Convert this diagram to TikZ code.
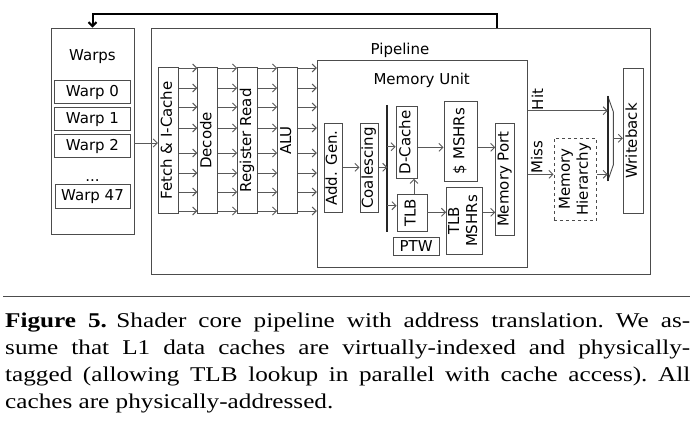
\documentclass[tikz,border=0pt]{standalone}
\usepackage{graphicx}
\usepackage{fontspec}
\newfontfamily\diafont{DejaVu Sans}
\newfontfamily\capfont[FakeStretch=1.2]{Liberation Serif}
\usetikzlibrary{arrows.meta, positioning}
\newcommand{\vtext}[1]{\rotatebox{90}{\begin{tabular}{@{}c@{}}#1\end{tabular}}}

\begin{document}
\begin{tikzpicture}[x = 1pt, y = -1pt, > = {Straight Barb[length=4pt, width=8pt]},
    every node/.style = {font = \diafont\fontsize{15}{18}\selectfont, inner sep = 0pt},
    box/.style = {draw = black!70, line width = 0.9pt, rectangle},
    stage/.style = {box, minimum width = 20pt, minimum height = 145.6pt},
    warp/.style = {box, minimum width = 76pt, minimum height = 23.3pt},
    wire/.style = {->, draw = black!65, line width = 0.9pt},
    bar/.style = {draw = black!85, line width = 2pt},
    back/.style = {->, draw = black, line width = 2pt},
    capstyle/.style = {text width = 685pt, align = justify, font = \capfont\fontsize{21}{27}\selectfont}]
    \useasboundingbox (0,0) rectangle (696,425);

    \node[box, minimum width = 83pt, minimum height = 206pt]		(warps)		at (92.5,131)		{};
    \node										(warpstxt)	at (92.5,57)		{Warps};
    \node[warp]									(warp0)		at (92.5,92.3)		{Warp 0};
    \node[warp]									(warp1)		[below = 2.7pt of warp0]	{Warp 1};
    \node[warp]									(warp2)		[below = 2.7pt of warp1]	{Warp 2};
    \node										(dots)		at (92.5,181)		{...};
    \node[warp, minimum width = 75pt]			(warp47)	at (92.5,196.5)		{Warp 47};

    \node[box, minimum width = 499pt, minimum height = 246pt]	(pipeline)	at (400.5,151)		{};
    \node										(pipetxt)	at (400,50)			{Pipeline};
    \node[stage]								(fetch)		at (168.3,140.5)	{\vtext{Fetch \& I-Cache}};
    \node[stage]								(decode)	at (207.7,140.5)	{\vtext{Decode}};
    \node[stage]								(regread)	at (247.5,140.5)	{\vtext{Register Read}};
    \node[stage]								(alu)		at (287.5,140.5)	{\vtext{ALU}};
    \node[stage, minimum height = 145pt]		(wb)		at (633.3,140.8)	{\vtext{Writeback}};

    \node[box, minimum width = 210.4pt, minimum height = 207pt]	(memunit)	at (422.4,164.2)	{};
    \node										(memtxt)	at (421.7,80.7)		{Memory Unit};
    \node[box, minimum width = 18.3pt, minimum height = 89.4pt]	(addgen)	at (333.2,168)		{\vtext{Add. Gen.}};
    \node[box, minimum width = 18.7pt, minimum height = 89.4pt]	(coalesce)	at (369.3,168)		{\vtext{Coalescing}};
    \node[box, minimum width = 21.3pt, minimum height = 72.3pt]	(dcache)	at (406.7,142.2)	{\vtext{D-Cache}};
    \node[box, minimum width = 33.7pt, minimum height = 80pt]	(cmshr)		at (460.8,141)		{\vtext{\$ MSHRs}};
    \node[box, minimum width = 30pt, minimum height = 36.7pt]	(tlb)		at (412,212.7)		{\vtext{TLB}};
    \node[box, minimum width = 45.7pt, minimum height = 17.7pt]	(ptw)		at (416.2,246.2)	{PTW};
    \node[box, minimum width = 34.4pt, minimum height = 66.6pt]	(tlbmshr)	at (464.5,221)		{\vtext{TLB\\MSHRs}};
    \node[box, minimum width = 18.6pt, minimum height = 111.7pt]	(memport)	at (505,179.2)		{\vtext{Memory Port}};
    \node[box, dashed, minimum width = 42.7pt, minimum height = 81.7pt]	(memhier)	at (575.3,179.2)	{\vtext{Memory\\Hierarchy}};

    \coordinate (bartop) at (387.3,105);
    \coordinate (barbot) at (387.3,231.7);
    \coordinate (muxtl) at (607.7,96);
    \coordinate (muxbl) at (607.7,181);
    \coordinate (muxout) at (613.3,138.3);
    \coordinate (fb) at (496.7,14);

    \draw[bar] (bartop) -- (barbot);
    \draw[box] (muxtl) -- (613.3,111.7) -- (613.3,165) -- (muxbl);
    \draw[bar] (muxtl) -- (muxbl);

    \draw[wire] (warps.east |- 0,143) -- (fetch.west |- 0,143);
    \foreach \y in {68,88,107,128,153,173,192,211} {
        \draw[wire] (fetch.east |- 0,\y) -- (decode.west |- 0,\y);
        \draw[wire] (decode.east |- 0,\y) -- (regread.west |- 0,\y);
        \draw[wire] (regread.east |- 0,\y) -- (alu.west |- 0,\y);
        \draw[wire] (alu.east |- 0,\y) -- (memunit.west |- 0,\y);
    }
    \draw[wire] (addgen.east |- 0,167.3) -- (coalesce.west |- 0,167.3);
    \draw[wire] (coalesce.east |- 0,167.3) -- (bartop |- 0,167.3);
    \draw[wire] (bartop |- 0,146.7) -- (dcache.west |- 0,146.7);
    \draw[wire] (bartop |- 0,205.7) -- (tlb.west |- 0,205.7);
    \draw[wire] (tlb.north -| 414,0) -- (dcache.south -| 414,0);
    \draw[wire] (dcache.east |- 0,147.3) -- (cmshr.west |- 0,147.3);
    \draw[wire] (tlb.east |- 0,212.3) -- (tlbmshr.west |- 0,212.3);
    \draw[wire] (cmshr.east |- 0,147.3) -- (memport.west |- 0,147.3);
    \draw[wire] (tlbmshr.east |- 0,212.3) -- (memport.west |- 0,212.3);
    \draw[wire] (memunit.east |- 0,110.7) -- node[pos = 0.13, rotate = 90, anchor = west, yshift = 1pt] (hit) {Hit} (muxtl |- 0,110.7);
    \draw[wire] (memunit.east |- 0,174.3) -- node[pos = 0.38, rotate = 90, anchor = west, yshift = 1pt] (miss) {Miss} (memhier.west |- 0,174.3);
    \draw[wire] (memhier.east |- 0,174.3) -- (muxtl |- 0,174.3);
    \draw[wire] (muxout) -- (wb.west |- muxout);
    \draw[back] (pipeline.north -| fb) -- (fb) -| (warps.north);

    \draw[black!70, line width = 1pt] (3,296) -- (690,296);
    \node[capstyle, anchor = north west] (caption) at (5,313) {\frenchspacing\hyphenpenalty=10000\exhyphenpenalty=10000
        \textbf{Figure 5.}\hspace{0.45em}Shader core pipeline with address translation. We as-\linebreak
        sume that L1 data caches are virtually-indexed and physically-\linebreak
        tagged (allowing TLB lookup in parallel with cache access). All\linebreak
        caches are physically-addressed.};
\end{tikzpicture}
\end{document}
